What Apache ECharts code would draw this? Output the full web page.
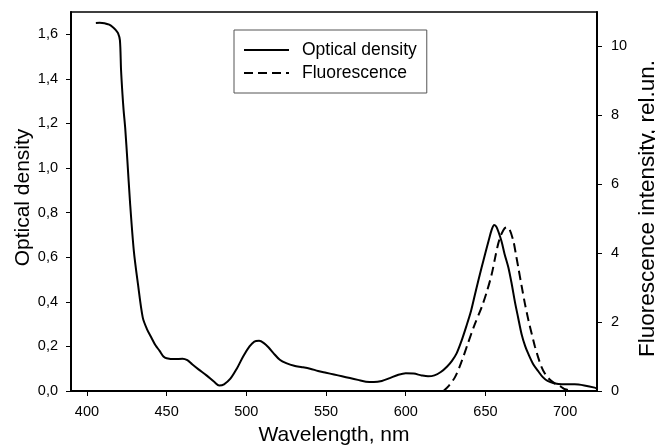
<!DOCTYPE html>
<html><head><meta charset="utf-8">
<script src="https://cdn.jsdelivr.net/npm/echarts@6/dist/echarts.min.js"></script>
<style>html,body{margin:0;padding:0;background:#fff}#c{width:655px;height:445px}</style>
</head><body><div id="c"></div>
<script>
// Optical density: wavelength (nm) and value
const odWavelength = [405.6,408,411,414,416.3,418,419.5,420.7,421.4,422.3,423,424,425.4,427,429.4,432,435,437.5,440.4,443,445.6,448,450,455,460,463,466,470,475,480,483,486,490,494,498,502,505,508,511,514,517,521,525,530,535,540,545,550,555,560,565,570,575,580,585,590,595,600,605,610,614,618,622,626,629,632,635,638,641,644,647.6,650,652,654,655.5,657,660,662,664.4,666.5,668.5,670.5,672.7,675,677,680,683,686,689,693,698,706,712,718.5,720];
const odValues = [1.651,1.652,1.65,1.643,1.632,1.62,1.605,1.573,1.44,1.33,1.26,1.18,1.03,0.85,0.63,0.48,0.33,0.28,0.24,0.205,0.18,0.155,0.147,0.143,0.145,0.138,0.12,0.097,0.07,0.04,0.025,0.03,0.055,0.10,0.155,0.20,0.222,0.225,0.215,0.195,0.17,0.14,0.125,0.113,0.107,0.10,0.09,0.082,0.074,0.066,0.058,0.05,0.042,0.04,0.045,0.058,0.072,0.08,0.078,0.07,0.066,0.07,0.085,0.11,0.135,0.17,0.225,0.29,0.36,0.45,0.554,0.62,0.674,0.725,0.745,0.735,0.674,0.615,0.554,0.48,0.40,0.33,0.255,0.20,0.165,0.12,0.09,0.062,0.045,0.035,0.03,0.03,0.025,0.015,0.01];
// Fluorescence: wavelength (nm) and intensity (rel.un.)
const flWavelength = [623.7,627,631,635,639,643,647.7,651,654,656,658,660,662,663.3,665,667.5,669,670.6,672.7,674.8,677,679,681,683,685,687.3,690,693.5,697.5,700,703];
const flValues = [0,0.15,0.41,0.85,1.38,1.9,2.44,2.9,3.4,3.85,4.27,4.55,4.72,4.75,4.7,4.36,4.0,3.59,3.05,2.53,2.05,1.67,1.3,0.99,0.72,0.51,0.35,0.22,0.12,0.05,0.02];
const xTicks = [400,450,500,550,600,650,700];
const seriesNames = ['Optical density','Fluorescence'];

const font = 'Liberation Sans, Arial, sans-serif';
const chart = echarts.init(document.getElementById('c'), null, {renderer:'canvas'});
const zip = (a,b) => a.map((x,i)=>[x,b[i]]);
chart.setOption({
  animation:false,
  backgroundColor:'#fff',
  grid:{left:71,right:58,top:12,bottom:54,containLabel:false,outerBoundsMode:'none',
    show:true,borderColor:'#000',borderWidth:1.5,backgroundColor:'transparent'},
  legend:{
    orient:'vertical', left:234, top:30,
    borderColor:'#555', borderWidth:1, padding:[11,10,11,9],
    itemWidth:45, itemHeight:14, itemGap:5,
    itemStyle:{opacity:0},
    textStyle:{fontFamily:font,fontSize:17.5,color:'#000',padding:[0,0,0,8]},
    data:seriesNames
  },
  xAxis:{
    type:'value', min:390, max:720,
    name:'Wavelength, nm', nameLocation:'middle', nameGap:34, nameMoveOverlap:false,
    nameTextStyle:{fontFamily:font,fontSize:21,color:'#000'},
    axisLine:{show:true,lineStyle:{color:'#000',width:2}},
    axisTick:{show:true,length:5,lineStyle:{color:'#000',width:1},customValues:xTicks},
    axisLabel:{fontFamily:font,fontSize:14.5,color:'#000',margin:13,customValues:xTicks},
    splitLine:{show:false}
  },
  yAxis:[{
    type:'value', min:0, max:1.7, interval:0.2, position:'left',
    name:'Optical density', nameLocation:'middle', nameGap:37, nameRotate:90, nameMoveOverlap:false,
    nameTextStyle:{fontFamily:font,fontSize:21,color:'#000',padding:[0,0,0,8]},
    axisLine:{show:true,lineStyle:{color:'#000',width:2}},
    axisTick:{show:true,length:5,lineStyle:{color:'#000',width:1}},
    axisLabel:{fontFamily:font,fontSize:14.5,color:'#000',margin:13,showMaxLabel:false,
      formatter:v=> v>1.65 ? '' : v.toFixed(1).replace('.',',')},
    splitLine:{show:false}
  },{
    type:'value', min:0, max:11, interval:2, position:'right',
    name:'Fluorescence intensity, rel.un.', nameLocation:'middle', nameGap:39, nameRotate:90, nameMoveOverlap:false,
    nameTextStyle:{fontFamily:font,fontSize:22.5,color:'#000',padding:[0,14,0,0]},
    axisLine:{show:true,lineStyle:{color:'#000',width:2}},
    axisTick:{show:true,length:5,lineStyle:{color:'#000',width:1}},
    axisLabel:{fontFamily:font,fontSize:14.5,color:'#000',margin:14,showMaxLabel:false,
      formatter:v=> v>10.5 ? '' : String(v)},
    splitLine:{show:false}
  }],
  series:[{
    name:seriesNames[0], type:'line', yAxisIndex:0, data:zip(odWavelength,odValues),
    symbol:'none', smooth:0.3, color:'#000', lineStyle:{color:'#000',width:2}
  },{
    name:seriesNames[1], type:'line', yAxisIndex:1, data:zip(flWavelength,flValues),
    symbol:'none', smooth:0.3, color:'#000', lineStyle:{color:'#000',width:2,type:[9,5]}
  }]
});
</script></body></html>
